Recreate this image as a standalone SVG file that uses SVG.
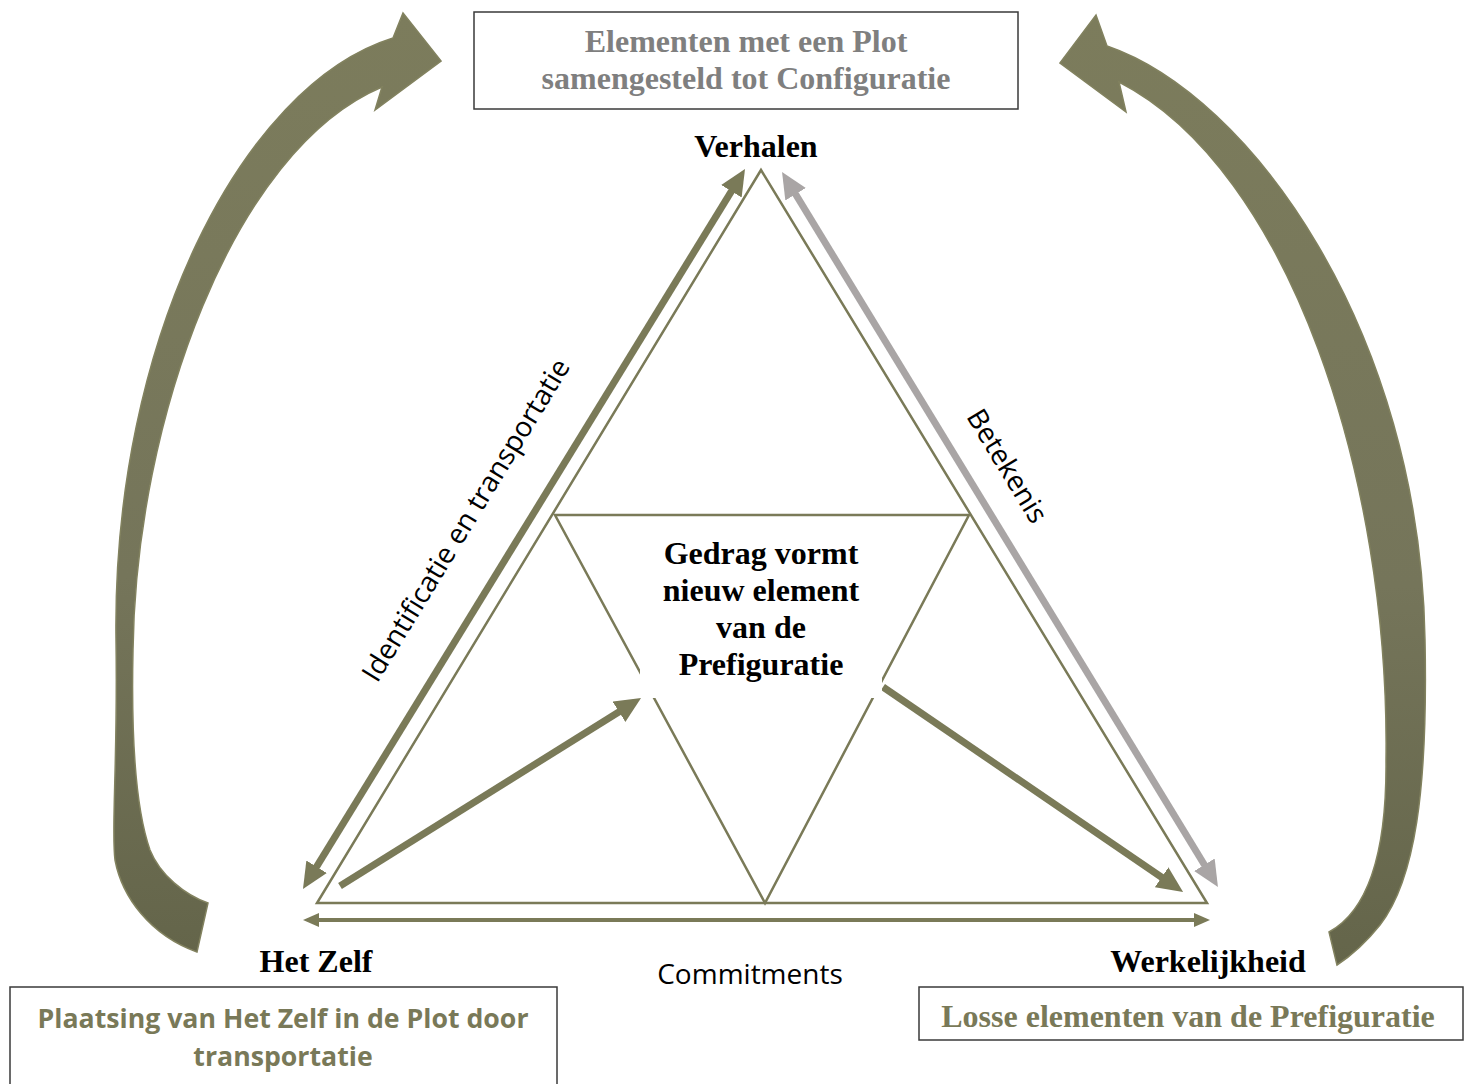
<svg xmlns="http://www.w3.org/2000/svg" width="1471" height="1084" viewBox="0 0 1471 1084">
<style>
.serif{font-family:"Liberation Serif","Times New Roman",serif;font-weight:bold;font-size:32px;}
.sans{font-family:"Open Sans","Liberation Sans",sans-serif;font-size:28px;}
.box{fill:#ffffff;stroke:#3a3a3a;stroke-width:1.5;}
.tri{fill:none;stroke:#7a7a58;stroke-width:2.5;stroke-linejoin:miter;}
.thick{stroke:#7a7a58;stroke-width:7;fill:none;}
.gray{stroke:#a9a5a5;stroke-width:7;fill:none;}
.thin{stroke:#7a7a58;stroke-width:4;fill:none;}
.curve{fill:url(#cg);stroke:#82825f;stroke-width:1.5;}
</style>
<defs>
<linearGradient id="cg" x1="0" y1="0" x2="0" y2="1">
<stop offset="0" stop-color="#7c7c5c"/>
<stop offset="0.6" stop-color="#75755a"/>
<stop offset="1" stop-color="#64654a"/>
</linearGradient>
<marker id="ah" markerUnits="userSpaceOnUse" markerWidth="26" markerHeight="24" refX="4" refY="12" orient="auto-start-reverse">
<path d="M0,0 L26,12 L0,24 Z" fill="#7a7a58"/>
</marker>
<marker id="ahg" markerUnits="userSpaceOnUse" markerWidth="26" markerHeight="24" refX="4" refY="12" orient="auto-start-reverse">
<path d="M0,0 L26,12 L0,24 Z" fill="#a9a5a5"/>
</marker>
<marker id="ahs" markerUnits="userSpaceOnUse" markerWidth="16" markerHeight="14" refX="3" refY="7" orient="auto-start-reverse">
<path d="M0,0 L16,7 L0,14 Z" fill="#7a7a58"/>
</marker>
</defs>
<rect width="1471" height="1084" fill="#ffffff"/>

<g id="curved-arrows">
<path id="curve-left" class="curve" d="M441,61 L403,13 L393,38 C242,85 112,340 116,640 C118,760 111,830 115,860 C122,897 150,935 197,952 L208,903 C185,895 160,875 150,850 C136,810 131,740 133,650 C136,420 233,150 382,87 L375,110 Z"/>
<path id="curve-right" class="curve" d="M1060,63 L1096,15 L1107,46 C1250,95 1420,330 1425,640 C1428,790 1415,880 1380,925 Q1360,950 1337,965 L1329,932 C1360,915 1387,870 1386,760 C1390,480 1290,170 1119,82 L1126,112 Z"/>
</g>

<g id="triangles">
<polygon id="outer-triangle" class="tri" points="761,170 317,903 1207,903"/>
<polygon id="inner-triangle" class="tri" points="555,515 969,515 765,903"/>
</g>

<g id="connectors">
<line id="arrow-identificatie" class="thick" x1="314.5" y1="870.2" x2="733.5" y2="187.8" marker-start="url(#ah)" marker-end="url(#ah)"/>
<line id="arrow-betekenis" class="gray" x1="793.5" y1="190.8" x2="1206.5" y2="868.2" marker-start="url(#ahg)" marker-end="url(#ahg)"/>
<line id="arrow-zelf-gedrag" class="thick" x1="340" y1="886" x2="622.4" y2="709.7" marker-end="url(#ah)"/>
<line id="arrow-gedrag-werk" class="thick" x1="883" y1="687" x2="1164.9" y2="879.5" marker-end="url(#ah)"/>
<line id="arrow-commitments" class="thin" x1="316" y1="920" x2="1197" y2="920" marker-start="url(#ahs)" marker-end="url(#ahs)"/>
<text class="sans" transform="translate(474,525) rotate(-58.6)" text-anchor="middle" fill="#000">Identificatie en transportatie</text>
<text class="sans" transform="translate(999,471) rotate(58.7)" text-anchor="middle" fill="#000">Betekenis</text>
<text class="sans" x="750" y="984" text-anchor="middle" fill="#000">Commitments</text>
</g>

<g id="node-gedrag">
<rect x="640" y="530" width="242" height="168" fill="#ffffff"/>
<text class="serif" text-anchor="middle" fill="#000"><tspan x="761" y="564">Gedrag vormt</tspan><tspan x="761" y="601">nieuw element</tspan><tspan x="761" y="638">van de</tspan><tspan x="761" y="675">Prefiguratie</tspan></text>
</g>

<g id="node-verhalen">
<text class="serif" x="756" y="157" text-anchor="middle" fill="#000">Verhalen</text>
</g>
<g id="node-het-zelf">
<text class="serif" x="316" y="972" text-anchor="middle" fill="#000">Het Zelf</text>
</g>
<g id="node-werkelijkheid">
<text class="serif" x="1208" y="972" text-anchor="middle" fill="#000">Werkelijkheid</text>
</g>

<g id="node-configuratie">
<rect class="box" x="474" y="12" width="544" height="97"/>
<text class="serif" text-anchor="middle" fill="#7f7f7f"><tspan x="746" y="52">Elementen met een Plot</tspan><tspan x="746" y="89">samengesteld tot Configuratie</tspan></text>
</g>

<g id="node-plaatsing">
<rect class="box" x="10" y="987" width="547" height="110"/>
<text font-family="'Open Sans','Liberation Sans',sans-serif" font-size="26.7" font-weight="bold" text-anchor="middle" fill="#797958"><tspan x="283" y="1028">Plaatsing van Het Zelf in de Plot door</tspan><tspan x="283" y="1066">transportatie</tspan></text>
</g>

<g id="node-losse">
<rect class="box" x="919" y="987" width="544" height="53"/>
<text class="serif" x="1188" y="1027" text-anchor="middle" fill="#797958">Losse elementen van de Prefiguratie</text>
</g>
</svg>
